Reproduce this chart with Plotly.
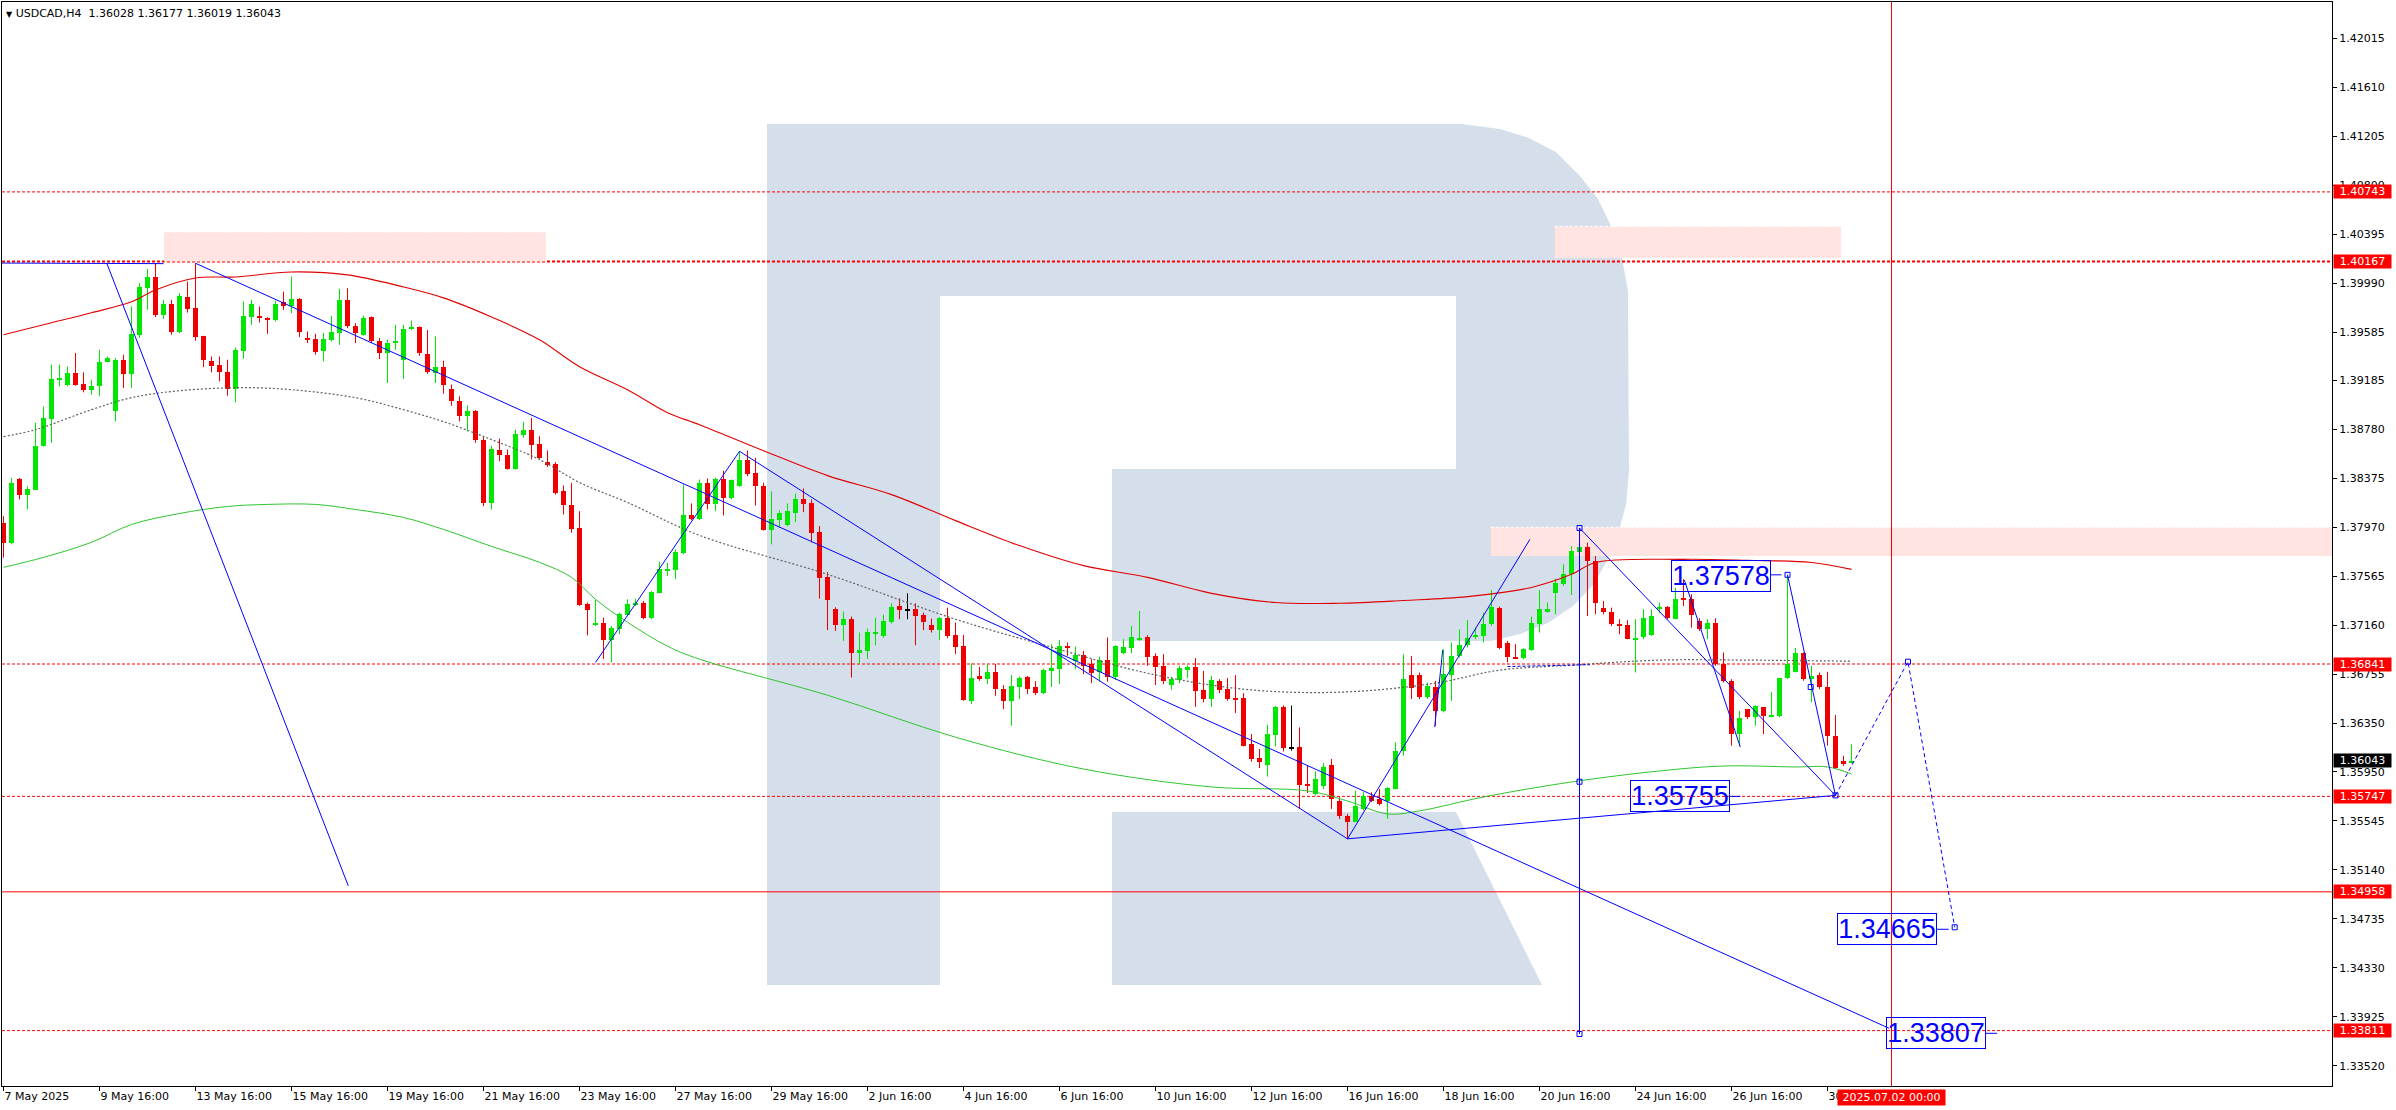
import plotly.graph_objects as go

# ---------------- data ----------------
OPEN = [
 1.38009, 1.37840, 1.38366, 1.38242, 1.38283, 1.38641, 1.38869, 1.39191, 1.39144, 1.39246,
 1.39158, 1.39102, 1.39136, 1.39337, 1.38929, 1.39356, 1.39240, 1.39562, 1.39952, 1.40038,
 1.39724, 1.39818, 1.39589, 1.39873, 1.39782, 1.39548, 1.39348, 1.39315, 1.39254, 1.39116,
 1.39432, 1.39713, 1.39719, 1.39697, 1.39686, 1.39829, 1.39804, 1.39859, 1.39538, 1.39527,
 1.39424, 1.39521, 1.39576, 1.39851, 1.39636, 1.39562, 1.39705, 1.39513, 1.39411, 1.39494,
 1.39356, 1.39609, 1.39626, 1.39405, 1.39246, 1.39292, 1.39114, 1.39018, 1.38888, 1.38935,
 1.38696, 1.38174, 1.38607, 1.38572, 1.38456, 1.38737, 1.38778, 1.38663, 1.38512, 1.38498,
 1.38267, 1.38157, 1.37961, 1.37334, 1.37170, 1.37184, 1.37040, 1.37128, 1.37244, 1.37326,
 1.37343, 1.37219, 1.37431, 1.37615, 1.37615, 1.37761, 1.38069, 1.38036, 1.38333, 1.38160,
 1.38374, 1.38209, 1.38316, 1.38531, 1.38423, 1.38316, 1.37947, 1.38030, 1.37994, 1.38085,
 1.38201, 1.38168, 1.37929, 1.37557, 1.37293, 1.37161, 1.37211, 1.36930, 1.36949, 1.37095,
 1.37073, 1.37189, 1.37318, 1.37287, 1.37293, 1.37244, 1.37161, 1.37122, 1.37219, 1.37079,
 1.36990, 1.36537, 1.36743, 1.36716, 1.36771, 1.36633, 1.36537, 1.36652, 1.36735, 1.36650,
 1.36600, 1.36784, 1.36798, 1.36988, 1.36867, 1.36914, 1.36837, 1.36771, 1.36873, 1.36735,
 1.36928, 1.36971, 1.37046, 1.37062, 1.36905, 1.36826, 1.36669, 1.36710, 1.36790, 1.36817,
 1.36625, 1.36551, 1.36699, 1.36633, 1.36557, 1.36560, 1.36180, 1.36064, 1.36009, 1.36256,
 1.36487, 1.36146, 1.36157, 1.35849, 1.35767, 1.35833, 1.36006, 1.35712, 1.35588, 1.35539,
 1.35643, 1.35753, 1.35726, 1.35712, 1.35808, 1.36124, 1.36751, 1.36751, 1.36565, 1.36647,
 1.36449, 1.36749, 1.36908, 1.36996, 1.37068, 1.37073, 1.37170, 1.37307, 1.37013, 1.36903,
 1.36889, 1.36955, 1.37175, 1.37279, 1.37425, 1.37499, 1.37582, 1.37769, 1.37811, 1.37692,
 1.37307, 1.37271, 1.37175, 1.37161, 1.37046, 1.37065, 1.37079, 1.37293, 1.37316, 1.37216,
 1.37382, 1.37376, 1.37197, 1.37128, 1.37178, 1.36840, 1.36702, 1.36262, 1.36468, 1.36400,
 1.36482, 1.36408, 1.36413, 1.36722, 1.36773, 1.36930, 1.36716, 1.36749, 1.36647, 1.36248,
 1.36042, 1.36028]
HIGH = [
 1.38063, 1.38379, 1.38379, 1.38311, 1.38834, 1.38971, 1.39315, 1.39315, 1.39301, 1.39411,
 1.39251, 1.39191, 1.39438, 1.39383, 1.39370, 1.39397, 1.39796, 1.39989, 1.40106, 1.40153,
 1.39851, 1.39851, 1.39906, 1.40002, 1.40153, 1.39554, 1.39383, 1.39383, 1.39356, 1.39457,
 1.39837, 1.39851, 1.39796, 1.39708, 1.39845, 1.39919, 1.40043, 1.39865, 1.39589, 1.39570,
 1.39576, 1.39719, 1.39942, 1.39947, 1.39658, 1.39721, 1.39713, 1.39535, 1.39521, 1.39645,
 1.39645, 1.39680, 1.39631, 1.39603, 1.39548, 1.39348, 1.39150, 1.39053, 1.38979, 1.38940,
 1.38723, 1.38646, 1.38704, 1.38613, 1.38778, 1.38842, 1.38875, 1.38723, 1.38607, 1.38509,
 1.38316, 1.38339, 1.38104, 1.37349, 1.37376, 1.37224, 1.37156, 1.37266, 1.37376, 1.37382,
 1.37362, 1.37444, 1.37687, 1.37678, 1.37788, 1.38325, 1.38168, 1.38366, 1.38374, 1.38380,
 1.38440, 1.38366, 1.38599, 1.38605, 1.38545, 1.38339, 1.38269, 1.38110, 1.38168, 1.38250,
 1.38292, 1.38201, 1.37981, 1.37601, 1.37310, 1.37274, 1.37233, 1.37101, 1.37134, 1.37224,
 1.37249, 1.37343, 1.37384, 1.37425, 1.37343, 1.37266, 1.37217, 1.37230, 1.37307, 1.37184,
 1.37082, 1.36848, 1.36817, 1.36840, 1.36840, 1.36666, 1.36749, 1.36738, 1.36743, 1.36699,
 1.36804, 1.37005, 1.37038, 1.37019, 1.36985, 1.36949, 1.36881, 1.36903, 1.37060, 1.36996,
 1.37046, 1.37156, 1.37279, 1.37079, 1.36928, 1.36922, 1.36735, 1.36826, 1.36831, 1.36889,
 1.36784, 1.36743, 1.36716, 1.36724, 1.36749, 1.36600, 1.36262, 1.36138, 1.36339, 1.36493,
 1.36498, 1.36498, 1.36317, 1.36006, 1.35954, 1.36023, 1.36056, 1.35740, 1.35602, 1.35794,
 1.35781, 1.35781, 1.35808, 1.35822, 1.36194, 1.36922, 1.36908, 1.36771, 1.36688, 1.36702,
 1.36963, 1.37019, 1.37128, 1.37205, 1.37142, 1.37266, 1.37452, 1.37316, 1.37032, 1.37005,
 1.36971, 1.37233, 1.37452, 1.37349, 1.37546, 1.37665, 1.37816, 1.37816, 1.37844, 1.37733,
 1.37362, 1.37307, 1.37211, 1.37203, 1.37211, 1.37293, 1.37293, 1.37349, 1.37320, 1.37472,
 1.37541, 1.37417, 1.37219, 1.37211, 1.37219, 1.36936, 1.36716, 1.36454, 1.36470, 1.36500,
 1.36485, 1.36611, 1.36725, 1.37578, 1.36974, 1.36936, 1.36826, 1.36771, 1.36776, 1.36420,
 1.36083, 1.36177]
LOW = [
 1.37719, 1.37830, 1.38201, 1.38118, 1.38280, 1.38638, 1.38669, 1.39136, 1.39136, 1.39141,
 1.39086, 1.39067, 1.39053, 1.39334, 1.38847, 1.39122, 1.39122, 1.39535, 1.39768, 1.39708,
 1.39692, 1.39562, 1.39576, 1.39746, 1.39513, 1.39295, 1.39251, 1.39177, 1.39059, 1.39004,
 1.39364, 1.39645, 1.39664, 1.39570, 1.39672, 1.39768, 1.39741, 1.39543, 1.39494, 1.39397,
 1.39342, 1.39507, 1.39479, 1.39617, 1.39494, 1.39554, 1.39494, 1.39361, 1.39164, 1.39438,
 1.39197, 1.39603, 1.39389, 1.39240, 1.39164, 1.39075, 1.38976, 1.38847, 1.38764, 1.38669,
 1.38146, 1.38118, 1.38517, 1.38448, 1.38448, 1.38710, 1.38531, 1.38537, 1.38470, 1.38242,
 1.38077, 1.37926, 1.37320, 1.37078, 1.37156, 1.36881, 1.36854, 1.37087, 1.37238, 1.37320,
 1.37211, 1.37211, 1.37425, 1.37568, 1.37541, 1.37747, 1.38030, 1.38030, 1.38118, 1.38104,
 1.38069, 1.38201, 1.38306, 1.38393, 1.38151, 1.37945, 1.37830, 1.37967, 1.37981, 1.38014,
 1.38096, 1.37844, 1.37382, 1.37122, 1.37114, 1.37032, 1.36729, 1.36840, 1.36881, 1.36996,
 1.37059, 1.37175, 1.37211, 1.37211, 1.36996, 1.37122, 1.37101, 1.37040, 1.37054, 1.36922,
 1.36537, 1.36510, 1.36702, 1.36674, 1.36578, 1.36468, 1.36331, 1.36551, 1.36592, 1.36584,
 1.36592, 1.36652, 1.36674, 1.36908, 1.36798, 1.36757, 1.36683, 1.36694, 1.36694, 1.36710,
 1.36922, 1.36930, 1.37032, 1.36826, 1.36666, 1.36674, 1.36627, 1.36683, 1.36724, 1.36487,
 1.36524, 1.36487, 1.36600, 1.36537, 1.36435, 1.36160, 1.36034, 1.35981, 1.35910, 1.36160,
 1.36119, 1.36124, 1.35643, 1.35775, 1.35753, 1.35808, 1.35643, 1.35561, 1.35396, 1.35534,
 1.35629, 1.35699, 1.35671, 1.35561, 1.35805, 1.36083, 1.36551, 1.36551, 1.36551, 1.36331,
 1.36441, 1.36537, 1.36895, 1.36977, 1.37046, 1.37019, 1.37156, 1.36963, 1.36854, 1.36881,
 1.36881, 1.36949, 1.37101, 1.37266, 1.37252, 1.37485, 1.37411, 1.37766, 1.37238, 1.37252,
 1.37252, 1.37156, 1.37087, 1.37046, 1.36771, 1.37046, 1.37073, 1.37266, 1.37211, 1.37211,
 1.37320, 1.37142, 1.37114, 1.37046, 1.36826, 1.36688, 1.36166, 1.36166, 1.36386, 1.36331,
 1.36262, 1.36400, 1.36400, 1.36716, 1.36771, 1.36702, 1.36524, 1.36633, 1.36166, 1.35973,
 1.36000, 1.36019]
CLOSE = [
 1.37844, 1.38339, 1.38242, 1.38289, 1.38646, 1.38874, 1.39196, 1.39199, 1.39246, 1.39150,
 1.39102, 1.39141, 1.39337, 1.39374, 1.39356, 1.39240, 1.39567, 1.39956, 1.40038, 1.39727,
 1.39818, 1.39589, 1.39883, 1.39779, 1.39540, 1.39350, 1.39306, 1.39251, 1.39116, 1.39438,
 1.39719, 1.39818, 1.39700, 1.39692, 1.39818, 1.39801, 1.39859, 1.39589, 1.39515, 1.39416,
 1.39527, 1.39581, 1.39851, 1.39636, 1.39576, 1.39700, 1.39513, 1.39411, 1.39494, 1.39513,
 1.39612, 1.39626, 1.39411, 1.39254, 1.39292, 1.39150, 1.39012, 1.38888, 1.38935, 1.38696,
 1.38168, 1.38619, 1.38566, 1.38456, 1.38745, 1.38778, 1.38654, 1.38545, 1.38487, 1.38256,
 1.38157, 1.37953, 1.37329, 1.37287, 1.37184, 1.37040, 1.37139, 1.37252, 1.37335, 1.37349,
 1.37219, 1.37436, 1.37623, 1.37623, 1.37766, 1.38069, 1.38036, 1.38333, 1.38160, 1.38374,
 1.38209, 1.38358, 1.38531, 1.38415, 1.38310, 1.37947, 1.38036, 1.38085, 1.38104, 1.38201,
 1.38160, 1.37920, 1.37549, 1.37370, 1.37161, 1.37211, 1.36930, 1.36955, 1.37106, 1.37109,
 1.37194, 1.37316, 1.37287, 1.37287, 1.37238, 1.37189, 1.37122, 1.37219, 1.37073, 1.36982,
 1.36543, 1.36724, 1.36716, 1.36771, 1.36633, 1.36537, 1.36658, 1.36724, 1.36633, 1.36600,
 1.36790, 1.36806, 1.36988, 1.36982, 1.36914, 1.36826, 1.36765, 1.36873, 1.36735, 1.36988,
 1.36980, 1.37062, 1.37060, 1.36899, 1.36817, 1.36699, 1.36716, 1.36806, 1.36817, 1.36619,
 1.36551, 1.36708, 1.36627, 1.36551, 1.36551, 1.36166, 1.36056, 1.36034, 1.36262, 1.36487,
 1.36146, 1.36146, 1.35841, 1.35835, 1.35891, 1.35990, 1.35726, 1.35588, 1.35534, 1.35671,
 1.35753, 1.35712, 1.35685, 1.35814, 1.36124, 1.36716, 1.36641, 1.36565, 1.36661, 1.36454,
 1.36757, 1.36908, 1.36999, 1.37060, 1.37079, 1.37170, 1.37316, 1.36977, 1.36895, 1.36889,
 1.36963, 1.37178, 1.37293, 1.37293, 1.37513, 1.37582, 1.37774, 1.37811, 1.37692, 1.37349,
 1.37271, 1.37170, 1.37156, 1.37051, 1.37054, 1.37224, 1.37238, 1.37316, 1.37219, 1.37382,
 1.37376, 1.37246, 1.37134, 1.37178, 1.36840, 1.36702, 1.36262, 1.36394, 1.36400, 1.36496,
 1.36413, 1.36419, 1.36722, 1.36840, 1.36933, 1.36716, 1.36743, 1.36647, 1.36248, 1.35978,
 1.36014, 1.36043]

XTICK_BARS = [0, 12, 24, 36, 48, 60, 72, 84, 96, 108, 120, 132, 144, 156, 168, 180, 192, 204, 216, 228]
XTICK_TEXT = ["7 May 2025", "9 May 16:00", "13 May 16:00", "15 May 16:00", "19 May 16:00",
              "21 May 16:00", "23 May 16:00", "27 May 16:00", "29 May 16:00", "2 Jun 16:00",
              "4 Jun 16:00", "6 Jun 16:00", "10 Jun 16:00", "12 Jun 16:00", "16 Jun 16:00",
              "18 Jun 16:00", "20 Jun 16:00", "24 Jun 16:00", "26 Jun 16:00", "30 Jun 16:00"]
YTICKS = [1.33520, 1.33925, 1.34330, 1.34735, 1.35140, 1.35545, 1.35950, 1.36350, 1.36755,
          1.37160, 1.37565, 1.37970, 1.38375, 1.38780, 1.39185, 1.39585, 1.39990, 1.40395,
          1.40800, 1.41205, 1.41610, 1.42015]

# moving averages (sampled)
RED_MA_X = [0, 6, 11, 16, 19, 24, 29, 36, 43, 50, 55, 61, 67, 72, 78, 83, 87, 95, 103, 111,
            119, 127, 135, 143, 151, 159, 167, 175, 183, 191, 196, 199, 210, 218, 226, 231]
RED_MA_Y = [1.39562, 1.39661, 1.39744, 1.39835, 1.39933, 1.40032, 1.40040, 1.40081, 1.40057,
            1.39957, 1.39867, 1.39709, 1.39521, 1.39298, 1.39108, 1.38918, 1.38819, 1.38604,
            1.38398, 1.38241, 1.38026, 1.37820, 1.37654, 1.37557, 1.37425, 1.37349, 1.37343,
            1.37366, 1.37398, 1.37474, 1.37582, 1.37680, 1.37706, 1.37698, 1.37680, 1.37623]
GREY_MA_X = [0, 4, 11, 16, 22, 30, 36, 44, 50, 55, 61, 67, 72, 78, 87, 103, 119, 131, 143,
             155, 167, 179, 187, 196, 207, 218, 231]
GREY_MA_Y = [1.38720, 1.38778, 1.38943, 1.39042, 1.39100, 1.39125, 1.39108, 1.39042, 1.38943,
             1.38844, 1.38696, 1.38531, 1.38341, 1.38176, 1.37904, 1.37582, 1.37211, 1.36980,
             1.36765, 1.36633, 1.36608, 1.36683, 1.36790, 1.36831, 1.36873, 1.36873, 1.36864]
GREEN_MA_X = [0, 5, 11, 16, 22, 28, 33, 39, 44, 50, 55, 61, 67, 71, 74, 78, 83, 87, 103, 119,
              135, 151, 163, 168, 173, 177, 185, 196, 207, 215, 224, 228, 231]
GREEN_MA_Y = [1.37640, 1.37722, 1.37847, 1.37994, 1.38085, 1.38143, 1.38160, 1.38160, 1.38118,
              1.38052, 1.37953, 1.37813, 1.37681, 1.37557, 1.37376, 1.37186, 1.36988, 1.36881,
              1.36583, 1.36236, 1.35973, 1.35825, 1.35792, 1.35709, 1.35602, 1.35627, 1.35742,
              1.35866, 1.35957, 1.35998, 1.35990, 1.35990, 1.35932]

# horizontal levels
DOTTED_LEVELS = [1.40743, 1.40167, 1.36841, 1.35747, 1.33811]
DOTTED_WIDTH = [1, 2, 1, 1, 1]
SOLID_LEVELS = [1.34958]
CURRENT_PRICE = 1.36043
VLINE_BAR = 236
VLINE_TEXT = "2025.07.02 00:00"
SYMBOL = "USDCAD,H4"

# zones (bar_from, bar_to, price_low, price_high); None = to the right edge
ZONES = [(20.06, 67.8, 1.40167, 1.40412),
         (193.9, 229.7, 1.40197, 1.40458),
         (185.9, None, 1.37733, 1.37971)]

# drawn trend lines ((bar, price), (bar, price))
TREND_LINES = [
    ((-0.2, 1.40155), (20.0, 1.40150)),
    ((12.9, 1.40155), (43.1, 1.35007)),
    ((24.0, 1.40153), (235.7, 1.33830)),
    ((92.0, 1.38599), (168.0, 1.35396)),
    ((74.0, 1.36854), (92.0, 1.38599)),
    ((168.0, 1.35396), (190.8, 1.37871)),
    ((168.0, 1.35396), (229.0, 1.35755)),
    ((197.0, 1.37965), (197.0, 1.33783)),
    ((197.0, 1.37965), (229.0, 1.35755)),
    ((223.0, 1.37578), (229.0, 1.35755)),
    ((210.1, 1.37536), (217.1, 1.36155)),
    ((179.9, 1.36957), (178.9, 1.36320)),
]
DOTTED_BLUE = ((188.0, 1.36820), (198.3, 1.36835))
PROJ_X = [229.0, 238.06, 243.9]
PROJ_Y = [1.35755, 1.36860, 1.34665]
POINT_X = [197.0, 197.0, 197.0, 223.0, 225.9, 229.0, 238.06, 243.9]
POINT_Y = [1.37965, 1.35868, 1.33783, 1.37578, 1.36651, 1.35755, 1.36860, 1.34665]
# labels: text, anchor bar, anchor price
LABELS = [("1.37578", 223.0, 1.37578), ("1.35755", 229.0, 1.35755),
          ("1.34665", 243.9, 1.34665), ("1.33807", 235.7, 1.33830)]

# ---------------- geometry / style ----------------
W, H = 2396, 1110
ML, MR, MT, MB = 2, 64, 2, 24
PW, PH = W - ML - MR, H - MT - MB
BAR_PX = 8.0
X0 = -0.1875
X1 = X0 + PW / BAR_PX
PX_PER_UNIT = 12099.0
YMAX = 1.42015 + 36 / PX_PER_UNIT
YMIN = YMAX - PH / PX_PER_UNIT

UP, DN, DOJI = "#00E600", "#EE0000", "#000000"
BLUE = "#0000FF"
LEVEL_RED = "#FF0000"
PINK = (255, 228, 225)
LOGO = (213, 223, 235)
MAUVE = tuple(a * b // 255 for a, b in zip(PINK, LOGO))
rgb = lambda c: "rgb(%d,%d,%d)" % c
FONT = "DejaVu Sans"


def px_x(i):
    return ML + (i - X0) / (X1 - X0) * PW


def px_y(p):
    return MT + (YMAX - p) / (YMAX - YMIN) * PH


def paper_x(px):
    return (px - ML) / PW


def paper_y(py):
    return 1 - (py - MT) / PH


def path_of(poly):
    return "M " + " L ".join("%.5f,%.5f" % (paper_x(x), paper_y(y)) for x, y in poly) + " Z"


def clip_poly(poly, x0, y0, x1, y1):
    def clip(pts, keep, inter):
        out = []
        for k in range(len(pts)):
            cur, prev = pts[k], pts[k - 1]
            if keep(cur):
                if not keep(prev):
                    out.append(inter(prev, cur))
                out.append(cur)
            elif keep(prev):
                out.append(inter(prev, cur))
        return out

    def ix(a, b, xv):
        t = (xv - a[0]) / (b[0] - a[0])
        return (xv, a[1] + t * (b[1] - a[1]))

    def iy(a, b, yv):
        t = (yv - a[1]) / (b[1] - a[1])
        return (a[0] + t * (b[0] - a[0]), yv)

    pts = list(poly)
    for keep, inter in [(lambda p: p[0] >= x0, lambda a, b: ix(a, b, x0)),
                        (lambda p: p[0] <= x1, lambda a, b: ix(a, b, x1)),
                        (lambda p: p[1] >= y0, lambda a, b: iy(a, b, y0)),
                        (lambda p: p[1] <= y1, lambda a, b: iy(a, b, y1))]:
        if not pts:
            break
        pts = clip(pts, keep, inter)
    return pts


# watermark "R" (screen pixels)
LOGO_STEM = [(767, 124), (940, 124), (940, 985), (767, 985)]
LOGO_BOWL = [(940, 124), (1462, 124), (1500, 129), (1529, 138), (1556, 152), (1580, 176),
             (1598, 199), (1612, 228), (1622, 258), (1628, 291), (1629, 470), (1626, 505),
             (1618, 534), (1607, 561), (1593, 585), (1573, 606), (1548, 623), (1520, 634),
             (1491, 641), (1112, 641), (1112, 469), (1456, 469), (1456, 296), (940, 296)]
LOGO_LEG = [(1112, 812), (1456, 812), (1542, 985), (1112, 985)]
LOGO_PARTS = [LOGO_STEM, LOGO_BOWL, LOGO_LEG]

shapes = []
for part in LOGO_PARTS:
    shapes.append(dict(type="path", xref="paper", yref="paper", path=path_of(part),
                       fillcolor=rgb(LOGO), line=dict(width=0), layer="below"))

for (b0, b1, lo, hi) in ZONES:
    xb1 = X1 if b1 is None else b1
    shapes.append(dict(type="rect", xref="x", yref="y", x0=b0, x1=xb1, y0=lo, y1=hi,
                       fillcolor=rgb(PINK), line=dict(width=0), layer="below"))
    rx0, rx1 = px_x(b0), px_x(xb1)
    ry0, ry1 = px_y(hi), px_y(lo)
    for part in LOGO_PARTS:
        cp = clip_poly(part, rx0, ry0, rx1, ry1)
        if len(cp) >= 3:
            shapes.append(dict(type="path", xref="paper", yref="paper", path=path_of(cp),
                               fillcolor=rgb(MAUVE), line=dict(width=0), layer="below"))
    shapes.append(dict(type="line", xref="x", yref="y", x0=b0, x1=xb1, y0=hi, y1=hi,
                       line=dict(color="white", width=1, dash="3px,2px"), layer="below"))

for lv, wd in zip(DOTTED_LEVELS, DOTTED_WIDTH):
    shapes.append(dict(type="line", xref="paper", yref="y", x0=0, x1=1, y0=lv, y1=lv,
                       line=dict(color=LEVEL_RED, width=wd, dash="3px,2px"), layer="below"))
for lv in SOLID_LEVELS:
    shapes.append(dict(type="line", xref="paper", yref="y", x0=0, x1=1, y0=lv, y1=lv,
                       line=dict(color=LEVEL_RED, width=1), layer="below"))
shapes.append(dict(type="line", xref="x", yref="paper", x0=VLINE_BAR, x1=VLINE_BAR, y0=0, y1=1,
                   line=dict(color=LEVEL_RED, width=1), layer="above"))

fig = go.Figure()

# ---------------- candles ----------------
n = len(OPEN)
idx = list(range(n))
min_h = 1.0 / PX_PER_UNIT
body_base, body_h, body_col = [], [], []
wicks = {UP: ([], []), DN: ([], []), DOJI: ([], [])}
for i in idx:
    o, h, l, c = OPEN[i], HIGH[i], LOW[i], CLOSE[i]
    col = UP if c > o else (DN if c < o else DOJI)
    lo_b, hi_b = min(o, c), max(o, c)
    hgt = max(hi_b - lo_b, min_h)
    body_base.append(lo_b if hi_b - lo_b >= min_h else (lo_b + hi_b) / 2 - min_h / 2)
    body_h.append(hgt)
    body_col.append(col)
    wx, wy = wicks[col]
    wx += [i, i, None]
    wy += [min(l, lo_b), max(h, hi_b), None]

for col, (wx, wy) in wicks.items():
    fig.add_trace(go.Scatter(x=wx, y=wy, mode="lines", line=dict(color=col, width=1),
                             hoverinfo="skip", showlegend=False))
fig.add_trace(go.Bar(x=idx, y=body_h, base=body_base, width=0.625,
                     marker=dict(color=body_col, line=dict(width=0)), showlegend=False,
                     hoverinfo="skip"))

# ---------------- moving averages ----------------
fig.add_trace(go.Scatter(x=GREEN_MA_X, y=GREEN_MA_Y, mode="lines", line_shape="spline",
                         line=dict(color="#2EC42E", width=1), hoverinfo="skip", showlegend=False))
fig.add_trace(go.Scatter(x=GREY_MA_X, y=GREY_MA_Y, mode="lines", line_shape="spline",
                         line=dict(color="#606060", width=1.2, dash="2px,2px"), hoverinfo="skip",
                         showlegend=False))
fig.add_trace(go.Scatter(x=RED_MA_X, y=RED_MA_Y, mode="lines", line_shape="spline",
                         line=dict(color="#E00000", width=1.1), hoverinfo="skip", showlegend=False))

# ---------------- drawn objects ----------------
tx, ty = [], []
for (a, b) in TREND_LINES:
    tx += [a[0], b[0], None]
    ty += [a[1], b[1], None]
fig.add_trace(go.Scatter(x=tx, y=ty, mode="lines", line=dict(color=BLUE, width=1),
                         hoverinfo="skip", showlegend=False))
fig.add_trace(go.Scatter(x=[DOTTED_BLUE[0][0], DOTTED_BLUE[1][0]],
                         y=[DOTTED_BLUE[0][1], DOTTED_BLUE[1][1]], mode="lines",
                         line=dict(color=BLUE, width=1, dash="3px,2px"), hoverinfo="skip",
                         showlegend=False))
fig.add_trace(go.Scatter(x=PROJ_X, y=PROJ_Y, mode="lines",
                         line=dict(color=BLUE, width=1, dash="4px,3px"), hoverinfo="skip",
                         showlegend=False))
fig.add_trace(go.Scatter(x=POINT_X, y=POINT_Y, mode="markers",
                         marker=dict(symbol="square-open", size=5, color=BLUE,
                                     line=dict(width=1, color=BLUE)),
                         hoverinfo="skip", showlegend=False))

annotations = []
# big blue labels: (xanchor, xshift, yshift, dash px from, dash px to, dash y px)
LABEL_STYLE = [("right", -17, -1, -17, -6, 0),
               ("right", -106, -1, -106, -95, -1),
               ("right", -18, -2, -18, -6, -2),
               ("left", -3, -5, 96, 108, -5)]
for (txt, bx, by), (xa, xs, ys, d0, d1, dy) in zip(LABELS, LABEL_STYLE):
    annotations.append(dict(x=bx, y=by, xref="x", yref="y", text=txt, showarrow=False,
                            xanchor=xa, yanchor="middle", xshift=xs, yshift=ys,
                            font=dict(family="Liberation Sans", size=27, color=BLUE),
                            bordercolor=BLUE, borderwidth=1, borderpad=0, width=98, height=30))
    shapes.append(dict(type="line", xref="x", yref="y", xsizemode="pixel", ysizemode="pixel",
                       xanchor=bx, yanchor=by, x0=d0, x1=d1, y0=dy, y1=dy,
                       line=dict(color=BLUE, width=1)))

# price labels on the axis
for lv in DOTTED_LEVELS + SOLID_LEVELS:
    annotations.append(dict(x=1, y=lv, xref="paper", yref="y", text="%.5f" % lv,
                            showarrow=False, xanchor="left", yanchor="middle", xshift=1,
                            bgcolor=LEVEL_RED, font=dict(family=FONT, size=11, color="white"),
                            width=57, height=13, borderpad=0))
annotations.append(dict(x=1, y=CURRENT_PRICE, xref="paper", yref="y",
                        text="%.5f" % CURRENT_PRICE, showarrow=False, xanchor="left",
                        yanchor="middle", xshift=1, bgcolor="black",
                        font=dict(family=FONT, size=11, color="white"),
                        width=57, height=13, borderpad=0))
annotations.append(dict(x=VLINE_BAR, y=0, xref="x", yref="paper", text=VLINE_TEXT,
                        showarrow=False, xanchor="center", yanchor="top", yshift=-3,
                        bgcolor=LEVEL_RED, font=dict(family=FONT, size=11, color="white"),
                        width=107, height=15, borderpad=0))
header = ('<span style="font-size:8px">\u25BC</span> ' + SYMBOL + "\u00a0\u00a0" +
          " ".join("%.5f" % v for v in (OPEN[-1], HIGH[-1], LOW[-1], CLOSE[-1])))
annotations.append(dict(x=0, y=1, xref="paper", yref="paper", text=header, showarrow=False,
                        xanchor="left", yanchor="top", xshift=2, yshift=-3,
                        font=dict(family=FONT, size=11, color="black")))

fig.update_layout(
    width=W, height=H,
    margin=dict(l=ML, r=MR, t=MT, b=MB, pad=0),
    paper_bgcolor="white", plot_bgcolor="white",
    showlegend=False, barmode="overlay", bargap=0,
    shapes=shapes, annotations=annotations,
    xaxis=dict(range=[X0, X1], showgrid=False, zeroline=False,
               tickmode="array", tickvals=XTICK_BARS, ticktext=XTICK_TEXT,
               ticks="outside", ticklen=4, tickcolor="black", tickwidth=1,
               ticklabelposition="outside right",
               tickfont=dict(family=FONT, size=11, color="black"),
               showline=True, linecolor="black", linewidth=1, mirror=True),
    yaxis=dict(range=[YMIN, YMAX], side="right", showgrid=False, zeroline=False,
               tickmode="array", tickvals=YTICKS, ticktext=["%.5f" % v for v in YTICKS],
               ticks="outside", ticklen=4, tickcolor="black", tickwidth=1,
               tickfont=dict(family=FONT, size=11, color="black"),
               showline=True, linecolor="black", linewidth=1, mirror=True),
)

fig.write_html("out.html", config={"displayModeBar": False},
               post_script="document.body.style.margin='0';document.body.style.overflow='hidden';")
